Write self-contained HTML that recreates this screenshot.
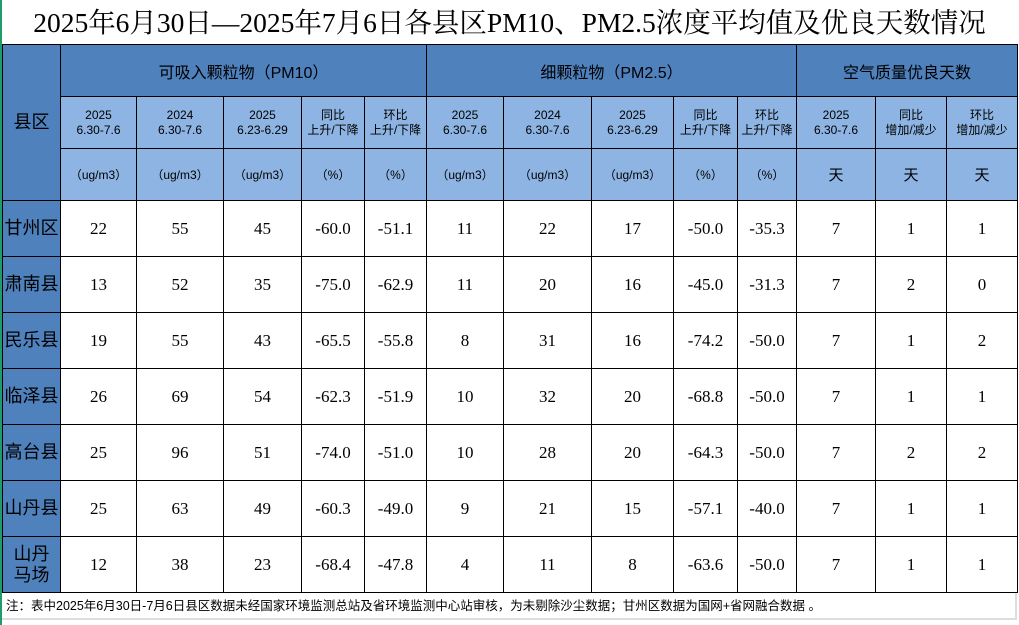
<!DOCTYPE html>
<html><head><meta charset="utf-8"><style>
html,body{margin:0;padding:0;width:1019px;height:625px;background:#fff;overflow:hidden;font-family:"Liberation Serif","Noto Serif CJK SC",serif;}
#gl{position:absolute;left:0;top:0;width:2px;height:625px;background:#1e9c6c;}
#title{position:absolute;left:2px;top:0;width:1015px;height:44px;line-height:46px;text-align:center;font-size:27.5px;color:#000;}
table{position:absolute;left:2px;top:44px;border-collapse:collapse;table-layout:fixed;}
td{border:1px solid #000;text-align:center;padding:0;font-size:17px;color:#000;}
.h1{background:#4f81bd;font-family:"Liberation Sans","Noto Sans CJK SC",sans-serif;font-size:16px;height:51px;}
.h2{background:#8db4e2;font-family:"Liberation Sans","Noto Sans CJK SC",sans-serif;font-size:12px;line-height:15px;height:51px;}
.h3{background:#8db4e2;font-family:"Liberation Sans","Noto Sans CJK SC",sans-serif;font-size:12px;height:51px;}
.h3.d{font-size:15px}
.name{background:#4f81bd;font-family:"Liberation Sans","Noto Sans CJK SC",sans-serif;font-size:18px;line-height:21px;}
.r td{height:55px;}
#note{position:absolute;left:2px;top:593px;width:1015px;height:27px;line-height:26px;font-family:"Liberation Sans","Noto Sans CJK SC",sans-serif;font-size:12.5px;padding-left:4px;border-right:2px solid #ddd;border-bottom:2px solid #ddd;box-sizing:border-box;}
</style></head><body>
<div id="gl"></div>
<div id="title">2025年6月30日—2025年7月6日各县区PM10、PM2.5浓度平均值及优良天数情况</div>
<table>
<colgroup><col style="width:58px"><col style="width:76px"><col style="width:87px"><col style="width:78px"><col style="width:63px"><col style="width:62px"><col style="width:77px"><col style="width:88px"><col style="width:82px"><col style="width:64px"><col style="width:59px"><col style="width:79px"><col style="width:71px"><col style="width:71px"></colgroup>
<tr><td class="name" rowspan="3">县区</td><td class="h1" colspan="5">可吸入颗粒物（PM10）</td><td class="h1" colspan="5">细颗粒物（PM2.5）</td><td class="h1" colspan="3">空气质量优良天数</td></tr>
<tr><td class="h2">2025<br>6.30-7.6</td><td class="h2">2024<br>6.30-7.6</td><td class="h2">2025<br>6.23-6.29</td><td class="h2">同比<br>上升/下降</td><td class="h2">环比<br>上升/下降</td><td class="h2">2025<br>6.30-7.6</td><td class="h2">2024<br>6.30-7.6</td><td class="h2">2025<br>6.23-6.29</td><td class="h2">同比<br>上升/下降</td><td class="h2">环比<br>上升/下降</td><td class="h2">2025<br>6.30-7.6</td><td class="h2">同比<br>增加/减少</td><td class="h2">环比<br>增加/减少</td></tr>
<tr><td class="h3">（ug/m3）</td><td class="h3">（ug/m3）</td><td class="h3">（ug/m3）</td><td class="h3">（%）</td><td class="h3">（%）</td><td class="h3">（ug/m3）</td><td class="h3">（ug/m3）</td><td class="h3">（ug/m3）</td><td class="h3">（%）</td><td class="h3">（%）</td><td class="h3 d">天</td><td class="h3 d">天</td><td class="h3 d">天</td></tr>
<tr class="r"><td class="name">甘州区</td><td>22</td><td>55</td><td>45</td><td>-60.0</td><td>-51.1</td><td>11</td><td>22</td><td>17</td><td>-50.0</td><td>-35.3</td><td>7</td><td>1</td><td>1</td></tr>
<tr class="r"><td class="name">肃南县</td><td>13</td><td>52</td><td>35</td><td>-75.0</td><td>-62.9</td><td>11</td><td>20</td><td>16</td><td>-45.0</td><td>-31.3</td><td>7</td><td>2</td><td>0</td></tr>
<tr class="r"><td class="name">民乐县</td><td>19</td><td>55</td><td>43</td><td>-65.5</td><td>-55.8</td><td>8</td><td>31</td><td>16</td><td>-74.2</td><td>-50.0</td><td>7</td><td>1</td><td>2</td></tr>
<tr class="r"><td class="name">临泽县</td><td>26</td><td>69</td><td>54</td><td>-62.3</td><td>-51.9</td><td>10</td><td>32</td><td>20</td><td>-68.8</td><td>-50.0</td><td>7</td><td>1</td><td>1</td></tr>
<tr class="r"><td class="name">高台县</td><td>25</td><td>96</td><td>51</td><td>-74.0</td><td>-51.0</td><td>10</td><td>28</td><td>20</td><td>-64.3</td><td>-50.0</td><td>7</td><td>2</td><td>2</td></tr>
<tr class="r"><td class="name">山丹县</td><td>25</td><td>63</td><td>49</td><td>-60.3</td><td>-49.0</td><td>9</td><td>21</td><td>15</td><td>-57.1</td><td>-40.0</td><td>7</td><td>1</td><td>1</td></tr>
<tr class="r"><td class="name">山丹<br>马场</td><td>12</td><td>38</td><td>23</td><td>-68.4</td><td>-47.8</td><td>4</td><td>11</td><td>8</td><td>-63.6</td><td>-50.0</td><td>7</td><td>1</td><td>1</td></tr>
</table>
<div id="note">注：表中2025年6月30日-7月6日县区数据未经国家环境监测总站及省环境监测中心站审核，为未剔除沙尘数据；甘州区数据为国网+省网融合数据 。</div>
</body></html>
